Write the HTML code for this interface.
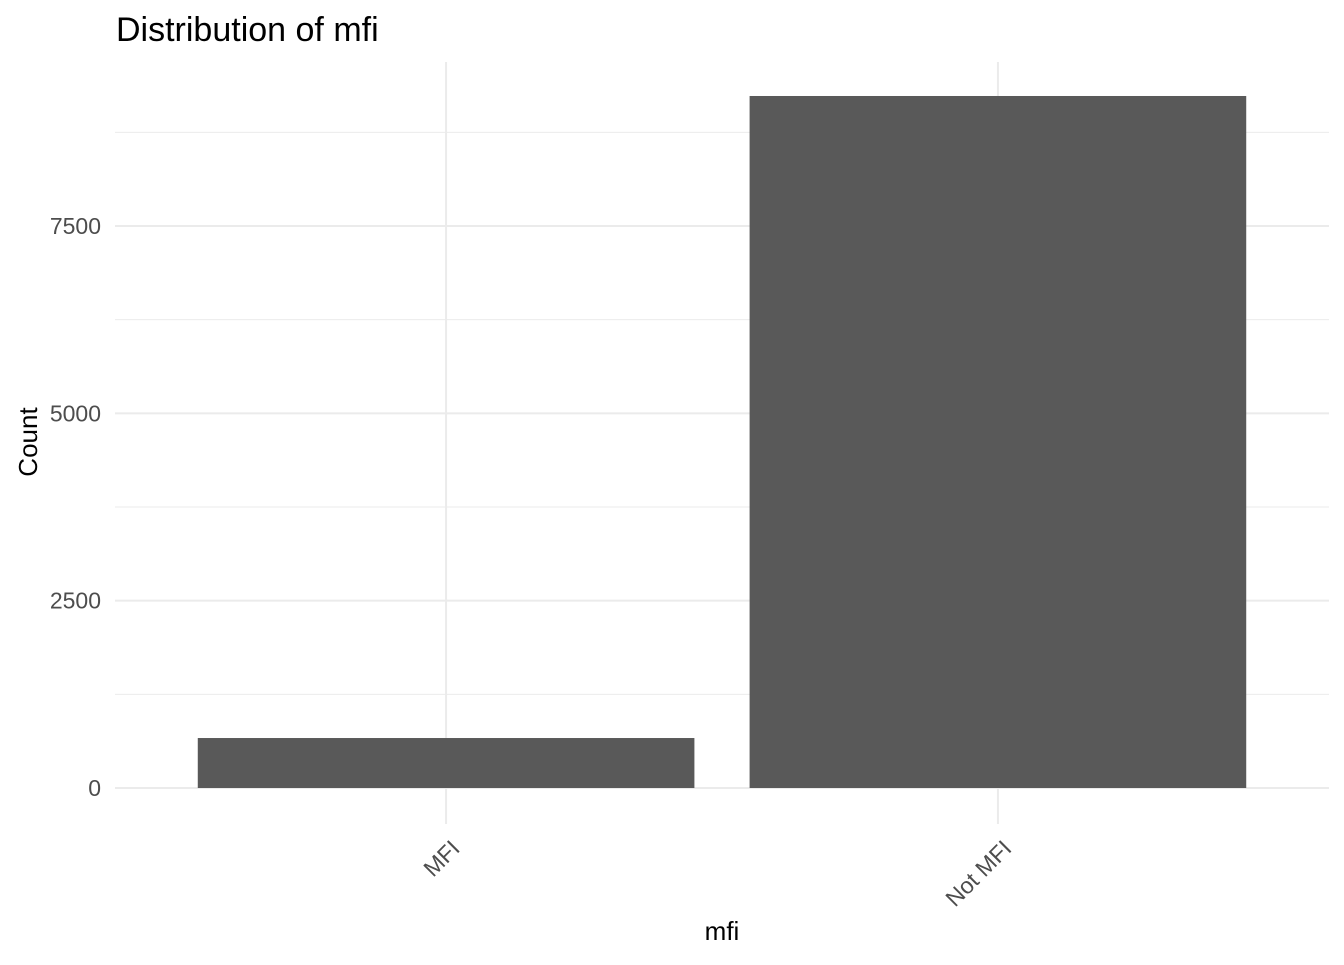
<!DOCTYPE html>
<html><head><meta charset="utf-8"><style>
body{margin:0;background:#fff;font-family:"Liberation Sans",Arial,sans-serif}
</style></head><body>
<svg id="chart" width="1344" height="960" xmlns="http://www.w3.org/2000/svg">
<text x="116" y="41" font-size="34" fill="#000">Distribution of mfi</text>
<g id="grid"></g><g id="bars"></g><g id="axes"></g>
<text x="722" y="940" font-size="26" text-anchor="middle" fill="#000">mfi</text>
<text transform="translate(37,442) rotate(-90)" font-size="26" text-anchor="middle" fill="#000">Count</text>
</svg>
<script>
const categories=["MFI","Not MFI"];
const counts=[667,9235];
const yTicks=[0,2500,5000,7500];
const yMinor=[1250,3750,6250,8750];
const NS="http://www.w3.org/2000/svg";
const pL=115,pR=1329,pT=62,pB=806;
const y0=788,pxPer=562/7500;
function yS(v){return y0-v*pxPer;}
const unit=(pR-pL)/(categories.length-1+1.2);
function xS(i){return pL+unit*(0.6+i);}
function mk(t,a,p){const e=document.createElementNS(NS,t);for(const k in a)e.setAttribute(k,a[k]);p.appendChild(e);return e;}
const gridG=document.getElementById('grid'),barsG=document.getElementById('bars'),axesG=document.getElementById('axes');
yMinor.forEach(v=>{const l=mk('line',{x1:pL,x2:pR,y1:yS(v),y2:yS(v),stroke:'#ebebeb','stroke-width':1},gridG);

});
yTicks.forEach(v=>{const l=mk('line',{x1:pL,x2:pR,y1:yS(v),y2:yS(v),stroke:'#ebebeb','stroke-width':2},gridG);


const t=mk('text',{x:101,y:yS(v)+8,'font-size':23,'text-anchor':'end',fill:'#4d4d4d'},axesG);t.textContent=v;

});
categories.forEach((c,i)=>{const l=mk('line',{x1:xS(i),x2:xS(i),y1:pT,y2:pB+18,stroke:'#ebebeb','stroke-width':2},gridG);


const w=unit*0.9;
const r=mk('rect',{x:xS(i)-w/2,y:yS(counts[i]),width:w,height:yS(0)-yS(counts[i]),fill:'#595959'},barsG);


const t=mk('text',{transform:`translate(${xS(i)+15},850) rotate(-45)`,'font-size':23,'text-anchor':'end',fill:'#4d4d4d'},axesG);t.textContent=c;

});
</script>
</body></html>
